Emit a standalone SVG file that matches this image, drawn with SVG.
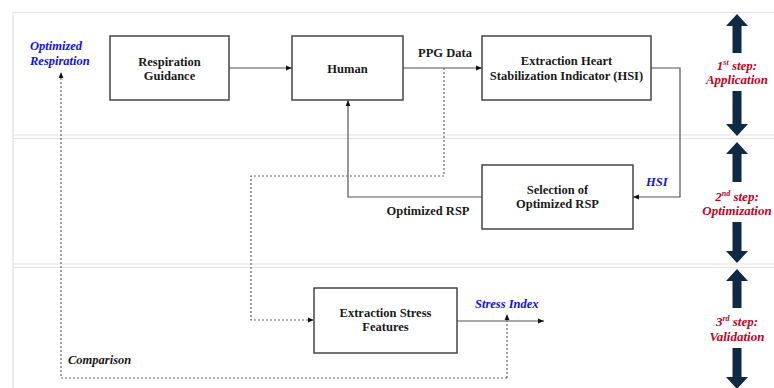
<svg xmlns="http://www.w3.org/2000/svg" width="774" height="388" viewBox="0 0 774 388">
<defs>
<marker id="ah" viewBox="0 0 10 10" refX="10" refY="5" markerWidth="6" markerHeight="6" orient="auto" markerUnits="userSpaceOnUse"><path d="M0,1 L10,5 L0,9 Z" fill="#111"/></marker>
<style>
.bg{fill:#fff}
.sep{stroke:#e2e2e2;stroke-width:1.2;fill:none}
.box{fill:#fff;stroke:#444;stroke-width:1.5}
text{font-family:'Liberation Serif','DejaVu Serif','Noto Serif',serif}
.t{font-weight:bold;font-size:12.5px;fill:#1a1a1a;text-anchor:middle}
.bl{font-weight:bold;font-style:italic;font-size:12.5px;fill:#1010ee}
.rd{font-weight:bold;font-style:italic;font-size:13px;fill:#c8001e;text-anchor:middle}
.cm{font-weight:bold;font-style:italic;font-size:12.5px;fill:#1a1a1a}
.ln{stroke:#555;stroke-width:1.2;fill:none}
.ds{stroke:#666;stroke-width:1.2;fill:none;stroke-dasharray:2 2}
.nav{fill:#0f2a44}
</style>
</defs>
<rect class="bg" x="0" y="0" width="774" height="388"/>
<g id="frame">
<path class="sep" d="M13,12.5 H774 M13,12.5 V388 M13,135 H774 M13,138.5 H774 M13,264 H774 M13,267.5 H774"/>
</g>
<g id="connectors">
<path class="ln" d="M229,68 H292" marker-end="url(#ah)"/>
<path class="ln" d="M403,68 H482" marker-end="url(#ah)"/>
<path class="ln" d="M651,68 H680 V197 H633" marker-end="url(#ah)"/>
<path class="ln" d="M482,197 H348 V100" marker-end="url(#ah)"/>
<path class="ds" d="M444,68 V176 H251 V320 H314" marker-end="url(#ah)"/>
<path class="ln" d="M457,321 H544" marker-end="url(#ah)"/>
<path class="ds" d="M507,378 V314" marker-end="url(#ah)"/>
<path class="ds" d="M507,378 H61 V72" marker-end="url(#ah)"/>
</g>
<g id="rg"><rect class="box" x="110" y="36" width="119" height="64"/><text class="t" x="169.5" y="66">Respiration</text><text class="t" x="169.5" y="80">Guidance</text></g>
<g id="human"><rect class="box" x="292" y="36" width="111" height="64"/><text class="t" x="347.5" y="73">Human</text></g>
<g id="hsi"><rect class="box" x="482" y="36" width="169" height="64"/><text class="t" x="566.5" y="65">Extraction Heart</text><text class="t" x="566.5" y="80">Stabilization Indicator (HSI)</text></g>
<g id="sel"><rect class="box" x="482" y="165" width="151" height="64"/><text class="t" x="557.5" y="194">Selection of</text><text class="t" x="557.5" y="208">Optimized RSP</text></g>
<g id="stress"><rect class="box" x="314" y="288" width="143" height="65"/><text class="t" x="385.5" y="317">Extraction Stress</text><text class="t" x="385.5" y="331">Features</text></g>
<g id="labels">
<text class="t" x="445" y="57">PPG Data</text>
<text class="t" x="428" y="215">Optimized RSP</text>
<text class="bl" x="646" y="186">HSI</text>
<text class="bl" x="475" y="308">Stress Index</text>
<text class="bl" x="30" y="50">Optimized</text>
<text class="bl" x="30" y="65">Respiration</text>
<text class="cm" x="68" y="364">Comparison</text>
</g>
<g id="steps">
<path class="nav" d="M737,14 L748,26 L741.5,26 L741.5,53 L732.5,53 L732.5,26 L726,26 Z"/>
<path class="nav" d="M737,136 L748,124 L741.5,124 L741.5,91 L732.5,91 L732.5,124 L726,124 Z"/>
<path class="nav" d="M737,142 L748,154 L741.5,154 L741.5,182 L732.5,182 L732.5,154 L726,154 Z"/>
<path class="nav" d="M737,263 L748,251 L741.5,251 L741.5,222 L732.5,222 L732.5,251 L726,251 Z"/>
<path class="nav" d="M737,269 L748,281 L741.5,281 L741.5,308 L732.5,308 L732.5,281 L726,281 Z"/>
<path class="nav" d="M737,389 L748,377 L741.5,377 L741.5,348 L732.5,348 L732.5,377 L726,377 Z"/>
<text class="rd" x="737" y="70">1<tspan font-size="8" dy="-5">st</tspan><tspan dy="5"> step:</tspan></text>
<text class="rd" x="737" y="84">Application</text>
<text class="rd" x="737" y="201">2<tspan font-size="8" dy="-5">nd</tspan><tspan dy="5"> step:</tspan></text>
<text class="rd" x="737" y="215">Optimization</text>
<text class="rd" x="737" y="326">3<tspan font-size="8" dy="-5">rd</tspan><tspan dy="5"> step:</tspan></text>
<text class="rd" x="737" y="341">Validation</text>
</g>
</svg>
